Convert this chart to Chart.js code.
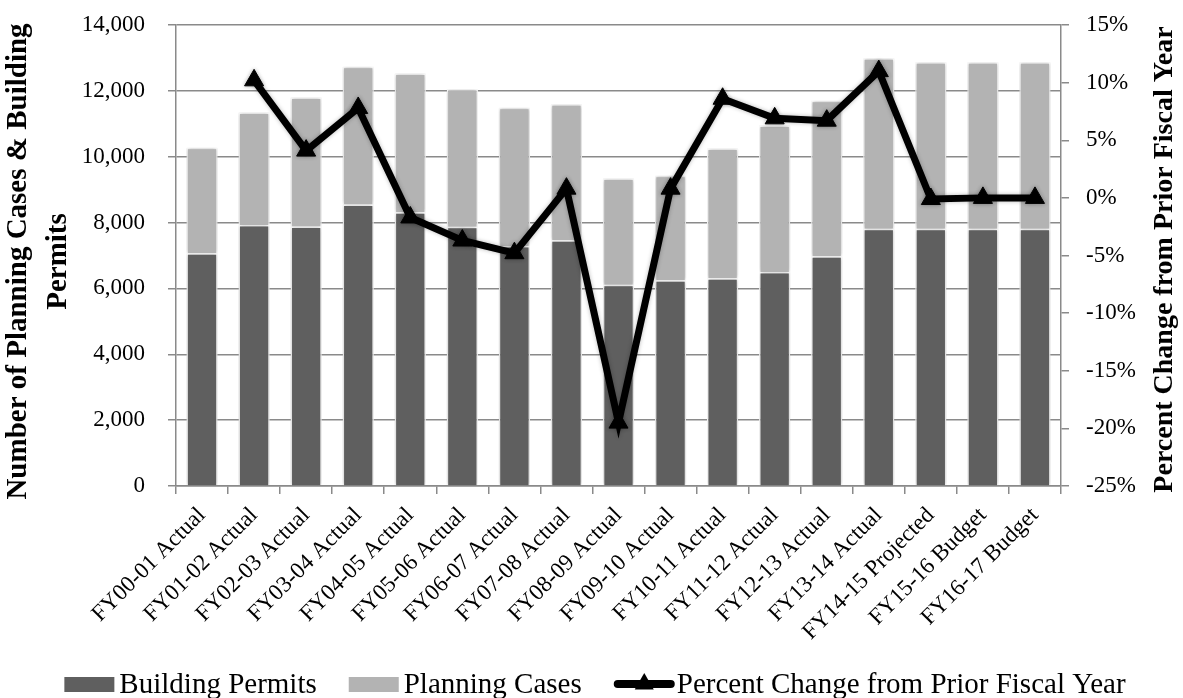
<!DOCTYPE html>
<html>
<head>
<meta charset="utf-8">
<script src="https://cdn.jsdelivr.net/npm/chart.js@4/dist/chart.umd.min.js"></script>
<style>
  html, body { margin: 0; padding: 0; background: #ffffff; }
  #wrap { position: relative; width: 1183px; height: 698px; }
</style>
</head>
<body>
<div id="wrap"><canvas id="chart" width="1183" height="698"></canvas></div>
<script>
// Fiscal years on the category axis
const categories = [
  'FY00-01 Actual', 'FY01-02 Actual', 'FY02-03 Actual', 'FY03-04 Actual',
  'FY04-05 Actual', 'FY05-06 Actual', 'FY06-07 Actual', 'FY07-08 Actual',
  'FY08-09 Actual', 'FY09-10 Actual', 'FY10-11 Actual', 'FY11-12 Actual',
  'FY12-13 Actual', 'FY13-14 Actual', 'FY14-15 Projected', 'FY15-16 Budget',
  'FY16-17 Budget'
];

// Building permits issued (lower stack segment)
const buildingPermits = [
  7070, 7930, 7880, 8550, 8310, 7870, 7290, 7460,
  6110, 6250, 6310, 6500, 6980, 7810, 7810, 7810, 7810
];

// Planning cases (upper stack segment)
const planningCases = [
  3200, 3410, 3920, 4180, 4220, 4180, 4200, 4130,
  3230, 3170, 3940, 4450, 4720, 5180, 5060, 5060, 5060
];

// Percent change of the combined total from the prior fiscal year
const percentChange = [
  null, 10.2, 4.1, 7.8, -1.7, -3.7, -4.8, 0.8,
  -19.5, 0.8, 8.6, 6.9, 6.7, 11.0, -0.1, 0, 0
];

// Tick values for the two value axes
const countTicks = [0, 2000, 4000, 6000, 8000, 10000, 12000, 14000];
const percentTicks = [-25, -20, -15, -10, -5, 0, 5, 10, 15];

const seriesNames = ['Building Permits', 'Planning Cases', 'Percent Change from Prior Fiscal Year'];
const leftTitle = ['Number of Planning Cases & Building', 'Permits'];
const rightTitle = 'Percent Change from Prior Fiscal Year';

const FONT = '"Liberation Serif", "DejaVu Serif", serif';
const DARK = '#5f5f5f';
const LIGHT = '#b3b3b3';
const GRID = '#8a8a8a';

// Soft shadow behind bars and the line
const shadowPlugin = {
  id: 'softShadow',
  beforeDatasetDraw(chart) {
    const ctx = chart.ctx;
    ctx.save();
    ctx.shadowColor = 'rgba(0,0,0,0.28)';
    ctx.shadowBlur = 4;
  },
  afterDatasetDraw(chart) {
    chart.ctx.restore();
  }
};

// Axis titles, read bottom-to-top on both sides
const axisTitlePlugin = {
  id: 'axisTitles',
  afterDraw(chart) {
    const ctx = chart.ctx;
    const area = chart.chartArea;
    const cy = (area.top + area.bottom) / 2;
    ctx.save();
    ctx.fillStyle = '#000';
    ctx.textAlign = 'center';
    ctx.textBaseline = 'alphabetic';
    ctx.font = 'bold 29px ' + FONT;
    const lx = [26, 66];
    leftTitle.forEach((t, i) => {
      ctx.save();
      ctx.translate(lx[i], cy + 6);
      ctx.rotate(-Math.PI / 2);
      ctx.fillText(t, 0, 0);
      ctx.restore();
    });
    ctx.font = 'bold 28px ' + FONT;
    ctx.save();
    ctx.translate(1172, cy + 4);
    ctx.rotate(-Math.PI / 2);
    ctx.fillText(rightTitle, 0, 0);
    ctx.restore();
    ctx.restore();
  }
};

// Legend row along the bottom edge
const legendPlugin = {
  id: 'bottomLegend',
  afterDraw(chart) {
    const ctx = chart.ctx;
    ctx.save();
    ctx.font = '29px ' + FONT;
    ctx.fillStyle = '#000';
    ctx.textBaseline = 'alphabetic';
    ctx.textAlign = 'left';
    const baseline = 693;
    const w = seriesNames.map(n => ctx.measureText(n).width);
    const boxW = 50, iconW = 61, gapText = 5, gapItem = 32;
    const total = boxW + gapText + w[0] + gapItem + boxW + gapText + w[1] + gapItem + iconW + 2 + w[2];
    let x = 595 - total / 2;
    // Building permits swatch
    ctx.fillStyle = DARK;
    ctx.fillRect(x, 677, boxW, 15);
    x += boxW + gapText;
    ctx.fillStyle = '#000';
    ctx.fillText(seriesNames[0], x, baseline);
    x += w[0] + gapItem;
    // Planning cases swatch
    ctx.fillStyle = LIGHT;
    ctx.fillRect(x, 677, boxW, 15);
    x += boxW + gapText;
    ctx.fillStyle = '#000';
    ctx.fillText(seriesNames[1], x, baseline);
    x += w[1] + gapItem;
    // Line with triangle marker
    const ly = 684;
    ctx.strokeStyle = '#000';
    ctx.lineWidth = 8;
    ctx.lineCap = 'round';
    ctx.beginPath();
    ctx.moveTo(x + 4, ly);
    ctx.lineTo(x + iconW - 4, ly);
    ctx.stroke();
    const cx = x + iconW / 2, r = 11;
    ctx.beginPath();
    ctx.moveTo(cx, ly - r);
    ctx.lineTo(cx + r * Math.sqrt(3) / 2, ly + r / 2);
    ctx.lineTo(cx - r * Math.sqrt(3) / 2, ly + r / 2);
    ctx.closePath();
    ctx.fillStyle = '#000';
    ctx.fill();
    x += iconW + 2;
    ctx.fillText(seriesNames[2], x, baseline);
    ctx.restore();
  }
};

const tickFont = { family: FONT, size: 23 };

// Value axes keep only the label overflow above/below, not the tick gap
function trimVerticalPadding(scale) {
  scale.paddingTop = 0;
  scale.paddingBottom = 0;
}

new Chart(document.getElementById('chart'), {
  data: {
    labels: categories,
    datasets: [
      {
        type: 'line',
        label: seriesNames[2],
        data: percentChange,
        yAxisID: 'y1',
        order: 0,
        borderColor: '#000',
        backgroundColor: '#000',
        borderWidth: 7,
        borderJoinStyle: 'miter',
        pointStyle: 'triangle',
        pointRadius: 11,
        pointBorderWidth: 1,
        pointBackgroundColor: '#000',
        pointBorderColor: '#000',
        tension: 0,
        spanGaps: false
      },
      {
        type: 'bar',
        label: seriesNames[0],
        data: buildingPermits,
        yAxisID: 'y',
        order: 1,
        stack: 'count',
        backgroundColor: DARK,
        borderColor: '#ffffff',
        borderWidth: 1.5,
        barPercentage: 0.6,
        categoryPercentage: 1.0
      },
      {
        type: 'bar',
        label: seriesNames[1],
        data: planningCases,
        yAxisID: 'y',
        order: 1,
        stack: 'count',
        backgroundColor: LIGHT,
        borderColor: '#ffffff',
        borderWidth: 1.5,
        barPercentage: 0.6,
        categoryPercentage: 1.0
      }
    ]
  },
  options: {
    responsive: false,
    animation: false,
    devicePixelRatio: 1,
    layout: { padding: { top: 25, right: 0, bottom: 0, left: 0 } },
    plugins: {
      legend: { display: false },
      tooltip: { enabled: false }
    },
    scales: {
      x: {
        stacked: true,
        offset: true,
        grid: { offset: true, drawOnChartArea: false, drawTicks: true, tickLength: 8, color: GRID, lineWidth: 1.5 },
        border: { display: true, color: GRID, width: 1.5 },
        ticks: {
          font: { family: FONT, size: 23 },
          color: '#000',
          minRotation: 45,
          maxRotation: 45,
          autoSkip: false,
          padding: 8
        },
        afterFit(scale) { scale.height = 212; }
      },
      y: {
        stacked: true,
        position: 'left',
        min: 0,
        max: 14000,
        afterBuildTicks(scale) { scale.ticks = countTicks.map(v => ({ value: v })); },
        grid: { drawOnChartArea: true, drawTicks: true, tickLength: 8, color: GRID, lineWidth: 1.5 },
        border: { display: true, color: GRID, width: 1.5 },
        ticks: {
          font: tickFont,
          color: '#000',
          padding: 23,
          callback: v => v.toLocaleString('en-US')
        },
        afterFit(scale) { scale.width = 176; trimVerticalPadding(scale); }
      },
      y1: {
        position: 'right',
        min: -25,
        max: 15,
        afterBuildTicks(scale) { scale.ticks = percentTicks.map(v => ({ value: v })); },
        grid: { drawOnChartArea: false, drawTicks: true, tickLength: 8, color: GRID, lineWidth: 1.5 },
        border: { display: true, color: GRID, width: 1.5 },
        ticks: {
          font: tickFont,
          color: '#000',
          padding: 17,
          callback: v => v + '%'
        },
        afterFit(scale) { scale.width = 122; trimVerticalPadding(scale); }
      }
    }
  },
  plugins: [shadowPlugin, axisTitlePlugin, legendPlugin]
});
</script>
</body>
</html>
